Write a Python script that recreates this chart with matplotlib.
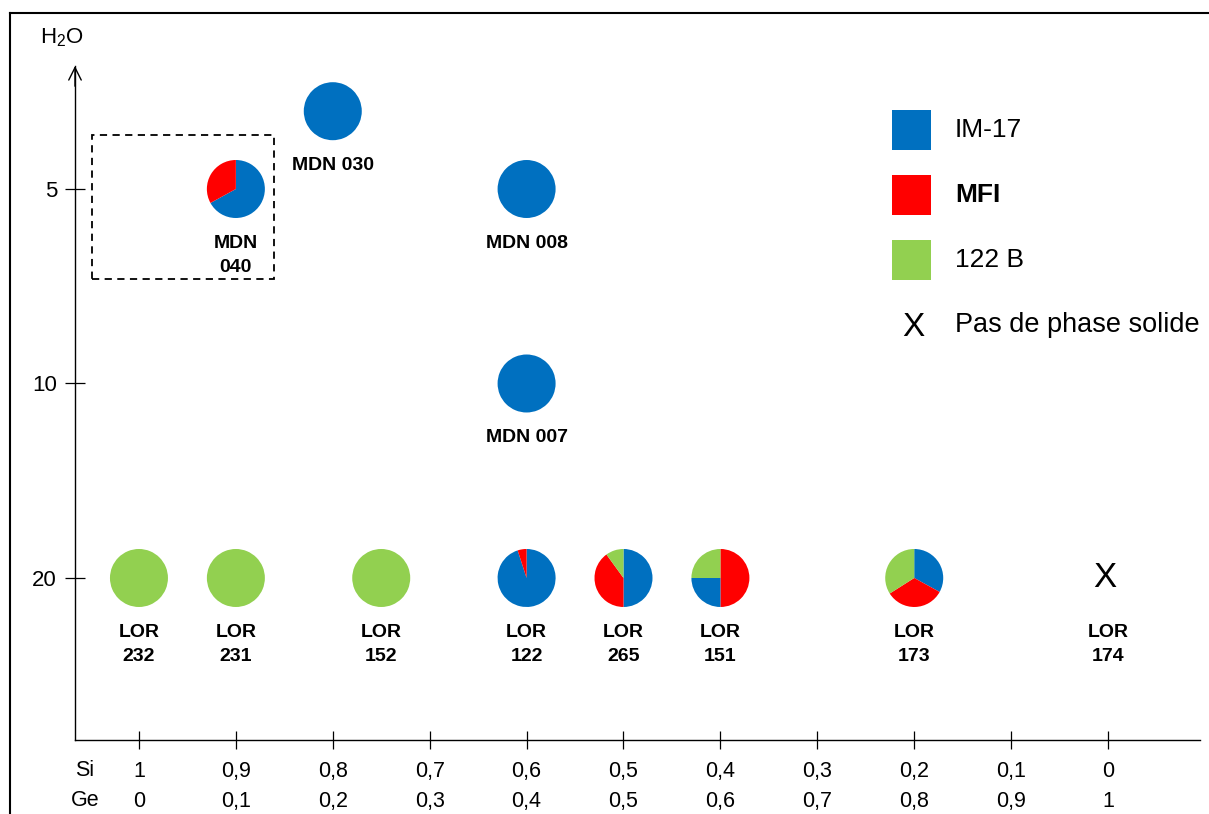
import matplotlib
matplotlib.use("Agg")
import matplotlib.pyplot as plt
import matplotlib.transforms as mtransforms
from matplotlib.patches import Wedge, Rectangle
from matplotlib.lines import Line2D
import numpy as np

plt.rcParams['font.family'] = ['Liberation Sans', 'DejaVu Sans']
plt.rcParams['mathtext.fontset'] = 'custom'
plt.rcParams['mathtext.rm'] = 'Liberation Sans'
plt.rcParams['mathtext.default'] = 'regular'

# ---------- Data ----------
labels = ['MDN 030', 'MDN\n040', 'MDN 008', 'MDN 007',
          'LOR\n232', 'LOR\n231', 'LOR\n152', 'LOR\n122',
          'LOR\n265', 'LOR\n151', 'LOR\n173', 'LOR\n174']
si = [0.8, 0.9, 0.6, 0.6, 1.0, 0.9, 0.75, 0.6, 0.5, 0.4, 0.2, 0.0]
h2o = [3, 5, 5, 10, 20, 20, 20, 20, 20, 20, 20, 20]
im17 = [1.0, 0.67, 1.0, 1.0, 0.0, 0.0, 0.0, 0.95, 0.50, 0.25, 0.33, 0.0]
mfi = [0.0, 0.33, 0.0, 0.0, 0.0, 0.0, 0.0, 0.05, 0.40, 0.50, 0.33, 0.0]
b122 = [0.0, 0.0, 0.0, 0.0, 1.0, 1.0, 1.0, 0.0, 0.10, 0.25, 0.34, 0.0]
# wedge order (clockwise from 12 o'clock); one sample differs
default_order = ['im17', 'mfi', 'b122']
special_order = {'LOR\n151': ['mfi', 'im17', 'b122']}

si_ticks = [1.0, 0.9, 0.8, 0.7, 0.6, 0.5, 0.4, 0.3, 0.2, 0.1, 0.0]
h2o_ticks = [5, 10, 20]

phase_names = {'im17': 'IM-17', 'mfi': 'MFI', 'b122': '122 B'}
colors = {'im17': '#0070C0', 'mfi': '#FF0000', 'b122': '#92D050'}


def fmt(v):
    s = f'{v:.1f}'.rstrip('0').rstrip('.')
    return s.replace('.', ',')


def y_pos(h):
    # H2O axis is not linear: 5, 10, 20 equally spaced
    return np.interp(h, [0, 5, 10, 20], [0, 1, 2, 3])


# ---------- Figure ----------
W, H = 1209, 814
fig = plt.figure(figsize=(W / 100, H / 100), dpi=100)
fig.patch.set_facecolor('white')


def fx(x):
    return x / W


def fy(y):
    return 1 - y / H


ax = fig.add_axes([fx(75), fy(740), (1200 - 75) / W, (740 - 66) / H])
ax.set_xlim(1.066, -0.0949)
ax.set_ylim(3.833, 0.3676)

for s in ['top', 'right']:
    ax.spines[s].set_visible(False)
for s in ['left', 'bottom']:
    ax.spines[s].set_linewidth(1.0)
    ax.spines[s].set_color('black')

ax.set_yticks(y_pos(np.array(h2o_ticks)), [str(t) for t in h2o_ticks])
ax.set_xticks(si_ticks)
ax.tick_params(axis='y', direction='inout', length=14, width=0.9,
               labelsize=16, pad=6)
ax.tick_params(axis='x', direction='inout', length=13, width=0.9,
               labelbottom=False)

# arrow head on y axis
ax.annotate('', xy=(0, 1.0), xytext=(0, 0.97), xycoords='axes fraction',
            arrowprops=dict(arrowstyle='->,head_length=0.9,head_width=0.45',
                            lw=1.0, color='black', mutation_scale=10,
                            shrinkA=0, shrinkB=0))

# Si / Ge tick labels
for v in si_ticks:
    ge = round(1 - v, 1)
    ax.annotate(fmt(v), xy=(v, 0), xycoords=('data', 'axes fraction'),
                xytext=(0, -22.5), textcoords='offset points',
                ha='center', va='center', fontsize=15.5)
    ax.annotate(fmt(ge), xy=(v, 0), xycoords=('data', 'axes fraction'),
                xytext=(0, -44.2), textcoords='offset points',
                ha='center', va='center', fontsize=15.5)
fig.text(fx(85), fy(771), 'Si', ha='center', va='center', fontsize=15.5)
fig.text(fx(85), fy(801), 'Ge', ha='center', va='center', fontsize=15.5)
fig.text(fx(62), fy(38), 'H$_2$O', ha='center', va='center', fontsize=16)

# pies
R = 0.29  # inches
for lab, x, h, a, b, c in zip(labels, si, h2o, im17, mfi, b122):
    p = y_pos(h)
    fr = {'im17': a, 'mfi': b, 'b122': c}
    if a + b + c == 0:
        ax.annotate('X', xy=(x, p), xytext=(-2, 0), textcoords='offset points',
                    ha='center', va='center', fontsize=25)
    else:
        trans = fig.dpi_scale_trans + mtransforms.ScaledTranslation(x, p, ax.transData)
        start = 90.0
        for key in special_order.get(lab, default_order):
            f = fr[key]
            if f <= 0:
                continue
            end = start - f * 360
            ax.add_patch(Wedge((0, 0), R, end, start, facecolor=colors[key],
                               edgecolor='none', transform=trans, clip_on=False))
            start = end
    ax.annotate(lab, xy=(x, p), xytext=(0, -33), textcoords='offset points',
                ha='center', va='top', fontsize=14, fontweight='bold',
                linespacing=1.55)

# dashed box around MDN 040
fig.add_artist(Rectangle((fx(92), fy(279)), (274 - 92) / W, (279 - 135) / H,
                         transform=fig.transFigure, fill=False,
                         edgecolor='black', lw=1.3, linestyle=(0, (4, 3))))

# legend
for i, key in enumerate(['im17', 'mfi', 'b122']):
    yc = 130 + 65 * i
    fig.add_artist(Rectangle((fx(892), fy(yc + 19.5)), 39 / W, 39 / H,
                             transform=fig.transFigure, facecolor=colors[key],
                             edgecolor='none'))
    fig.text(fx(955), fy(yc), phase_names[key], ha='left', va='center',
             fontsize=19, fontweight='bold' if key == 'mfi' else 'normal')
fig.text(fx(913), fy(327), 'X', ha='center', va='center', fontsize=24)
fig.text(fx(955), fy(325), 'Pas de phase solide', ha='left', va='center',
         fontsize=19.5)

# outer frame (left and top)
fig.add_artist(Line2D([fx(10), fx(10)], [0, fy(13)], color='black', lw=1.5,
                      transform=fig.transFigure))
fig.add_artist(Line2D([fx(10), 1], [fy(13), fy(13)], color='black', lw=1.5,
                      transform=fig.transFigure))

fig.savefig('out.png', dpi=100, facecolor='white')
